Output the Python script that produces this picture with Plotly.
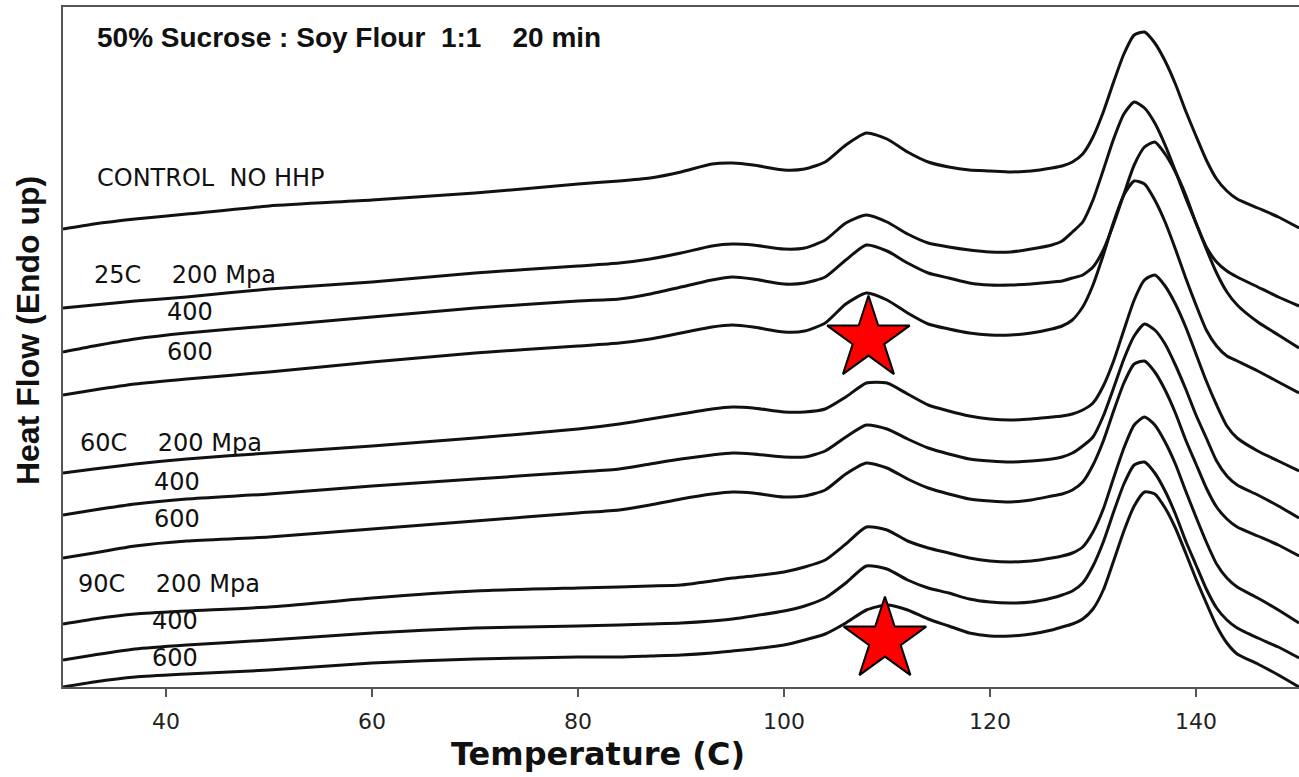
import plotly.graph_objects as go

# Temperature grid (deg C) shared by all DSC thermograms
temperature = [30, 33, 37, 42, 50, 60, 70, 80, 84, 87, 90, 93, 95, 97, 100, 102, 104, 106,
               108, 110, 112, 114, 116, 118, 120, 122, 124, 126, 127, 128, 129, 130, 131, 132,
               133, 134, 135, 136, 137, 138, 139, 140, 141, 142, 143, 144, 146, 148, 150]

# Heat flow (arbitrary units, endo up), curves already offset for stacking
control = [45.8, 46.3, 46.8, 47.3, 48.1, 48.7, 49.4, 50.3, 50.6, 50.9, 51.5, 52.3, 52.4, 52.2,
           51.7, 51.8, 52.5, 54.2, 55.4, 54.8, 53.5, 52.5,
           52.0, 51.7, 51.6, 51.5, 51.6, 51.9,
           52.1, 52.5, 53.3, 55.0, 57.5, 60.5, 63.3, 65.2, 65.5, 64.4, 62.6, 60.3, 57.6, 55.1,
           52.7, 50.8, 49.6, 48.8, 47.9, 47.0, 45.9]
hhp25_200 = [37.9, 38.2, 38.6, 39.0, 39.8, 40.5, 41.4, 42.1, 42.4, 42.8, 43.4, 44.1, 44.3, 44.2,
             43.8, 43.9, 44.7, 46.4, 47.2, 46.5, 45.3, 44.4,
             44.0, 43.7, 43.5, 43.5, 43.8, 44.2,
             44.6, 45.5, 46.5, 48.7, 51.7, 54.8, 57.3, 58.5, 57.9, 56.4, 54.2, 51.6, 48.9, 46.4,
             44.0, 42.5, 41.6, 41.0, 40.0, 39.0, 38.1]
hhp25_400 = [33.5, 34.1, 34.8, 35.4, 36.1, 37.0, 37.9, 38.6, 38.8, 39.3, 40.0, 40.7, 41.0, 40.8,
             40.3, 40.4, 41.0, 42.7, 44.2, 43.6, 42.4, 41.4,
             40.9, 40.4, 40.2, 40.2, 40.3, 40.5,
             40.6, 40.9, 41.2, 42.0, 43.7, 46.3, 49.3, 52.2, 54.0, 54.5, 53.3, 51.5, 49.2, 46.4,
             43.8, 41.4, 39.5, 38.2, 36.5, 35.2, 33.9]
hhp25_600 = [29.2, 29.7, 30.3, 30.8, 31.5, 32.5, 33.4, 34.1, 34.4, 34.8, 35.4, 36.0, 36.2, 36.0,
             35.5, 35.6, 36.4, 38.3, 39.4, 38.7, 37.4, 36.3,
             35.8, 35.4, 35.2, 35.2, 35.4, 35.8,
             36.1, 36.7, 38.0, 40.2, 43.2, 46.5, 49.2, 50.6, 50.3, 48.7, 46.5, 43.8, 40.9, 38.2,
             35.7, 34.1, 33.1, 32.6, 31.6, 30.5, 29.4]
hhp60_200 = [21.4, 21.8, 22.3, 22.8, 23.4, 24.1, 24.9, 25.8, 26.3, 26.8, 27.3, 27.8, 28.0, 27.9,
             27.5, 27.5, 27.8, 29.0, 30.4, 30.4, 29.3, 28.2,
             27.6, 27.1, 26.8, 26.7, 26.8, 27.0,
             27.1, 27.3, 27.7, 28.4, 30.1, 32.6, 35.7, 38.7, 40.7, 41.2, 40.1, 38.3, 36.0, 33.3,
             30.6, 28.2, 26.1, 24.9, 23.6, 22.6, 21.6]
hhp60_400 = [17.2, 17.7, 18.3, 18.8, 19.3, 20.1, 20.8, 21.5, 21.8, 22.3, 22.8, 23.2, 23.4, 23.3,
             23.0, 23.0, 23.6, 25.0, 26.2, 25.8, 24.8, 23.9,
             23.3, 22.8, 22.6, 22.5, 22.6, 22.8,
             23.0, 23.4, 24.1, 25.0, 27.1, 29.9, 32.8, 35.1, 36.3, 35.7, 34.3, 32.2, 29.8, 27.2,
             24.9, 22.6, 21.1, 20.2, 19.2, 18.1, 16.9]
hhp60_600 = [12.9, 13.4, 14.1, 14.6, 15.0, 15.8, 16.6, 17.4, 17.7, 18.2, 18.8, 19.3, 19.5, 19.4,
             19.0, 19.1, 19.7, 21.3, 22.4, 21.9, 20.8, 19.9,
             19.3, 18.8, 18.6, 18.5, 18.7, 19.1,
             19.3, 19.7, 20.5, 22.2, 24.6, 27.6, 30.4, 32.3, 32.6, 31.5, 29.7, 27.4, 24.7, 22.3,
             19.9, 18.0, 16.8, 16.0, 15.1, 14.2, 13.1]
hhp90_200 = [6.3, 6.8, 7.3, 7.6, 8.0, 8.9, 9.6, 9.9, 10.0, 10.1, 10.2, 10.6, 10.9, 11.1,
             11.5, 12.0, 12.7, 14.3, 16.0, 15.7, 14.6, 13.9,
             13.4, 12.9, 12.6, 12.5, 12.6, 12.9,
             13.1, 13.4, 14.0, 15.5, 17.8, 20.9, 23.9, 26.2, 27.0, 26.2, 24.5, 22.3, 19.6, 17.0,
             14.5, 12.3, 10.9, 10.0, 8.9, 7.7, 6.4]
hhp90_400 = [2.7, 3.2, 3.8, 4.2, 4.7, 5.4, 5.9, 6.1, 6.2, 6.3, 6.4, 6.6, 6.8, 7.1,
             7.6, 8.1, 8.9, 10.4, 12.1, 11.8, 10.7, 9.9,
             9.4, 8.8, 8.5, 8.4, 8.5, 8.9,
             9.2, 9.6, 10.4, 12.1, 14.5, 17.5, 20.3, 22.2, 22.5, 21.4, 19.6, 17.3, 14.6, 12.2,
             9.8, 7.9, 6.7, 5.9, 4.9, 4.0, 2.9]
hhp90_600 = [0.0, 0.5, 1.0, 1.3, 1.7, 2.4, 2.8, 3.0, 3.0, 3.1, 3.2, 3.4, 3.6, 3.8,
             4.2, 4.7, 5.3, 6.4, 7.7, 8.2, 7.7, 6.8,
             6.1, 5.4, 5.1, 5.1, 5.3, 5.7,
             6.0, 6.3, 6.8, 7.8, 9.7, 12.6, 15.6, 18.1, 19.5, 19.3, 17.9, 15.9, 13.4, 10.8,
             8.4, 6.1, 4.4, 3.3, 2.3, 1.2, 0.0]

curves = [control, hhp25_200, hhp25_400, hhp25_600, hhp60_200, hhp60_400, hhp60_600,
          hhp90_200, hhp90_400, hhp90_600]
for c in curves:
    if len(c) != len(temperature):
        raise ValueError("curve length mismatch")

# Highlighted transitions
star_temp = [108.2, 109.8]
star_flow = [34.8, 4.7]

# Curve labels: text, x (deg C), y (heat flow units)
label_text = ["CONTROL\u00a0\u00a0NO HHP",
              "25C\u00a0\u00a0\u00a0\u00a0200 Mpa", "400", "600",
              "60C\u00a0\u00a0\u00a0\u00a0200 Mpa", "400", "600",
              "90C\u00a0\u00a0\u00a0\u00a0200 Mpa", "400", "600"]
label_x = [33.1, 32.8, 39.9, 39.9, 31.5, 38.6, 38.6, 31.3, 38.4, 38.4]
label_y = [50.9, 41.2, 37.5, 33.5, 24.4, 20.5, 16.8, 10.3, 6.6, 2.9]

x_ticks = [40, 60, 80, 100, 120, 140]

fig = go.Figure()
for c in curves:
    fig.add_trace(go.Scatter(
        x=temperature, y=c, mode="lines",
        line=dict(color="#111111", width=3, shape="spline", smoothing=0.6),
        hoverinfo="skip", showlegend=False,
    ))

fig.add_trace(go.Scatter(
    x=star_temp, y=star_flow, mode="markers",
    marker=dict(symbol="star", size=62, color="#ff0000",
                line=dict(color="#000000", width=2)),
    hoverinfo="skip", showlegend=False,
))

annotations = []
for t, lx, ly in zip(label_text, label_x, label_y):
    annotations.append(dict(
        x=lx, y=ly, xref="x", yref="y", text=t, showarrow=False,
        xanchor="left", yanchor="middle",
        font=dict(family="DejaVu Sans", size=24, color="#111111"),
    ))

annotations.append(dict(
    x=33.1, y=65.0, xref="x", yref="y",
    text="<b>50% Sucrose : Soy Flour\u00a0\u00a01:1\u00a0\u00a0\u00a0\u00a020 min</b>",
    showarrow=False, xanchor="left", yanchor="middle",
    font=dict(family="Liberation Sans, Arial", size=28, color="#111111"),
))
annotations.append(dict(
    x=0.433, y=-0.098, xref="paper", yref="paper",
    text="<b>Temperature (C)</b>", showarrow=False,
    xanchor="center", yanchor="middle",
    font=dict(family="DejaVu Sans", size=32, color="#111111"),
))
annotations.append(dict(
    x=-0.0283, y=0.5235, xref="paper", yref="paper",
    text="<b>Heat Flow (Endo up)</b>", showarrow=False, textangle=-90,
    xanchor="center", yanchor="middle",
    font=dict(family="Liberation Sans, Arial", size=32, color="#111111"),
))

fig.update_layout(
    width=1299, height=777,
    margin=dict(l=63, r=0, t=7, b=90),
    paper_bgcolor="white", plot_bgcolor="white",
    annotations=annotations,
    hovermode=False,
    xaxis=dict(range=[30, 150], tickvals=x_ticks, ticktext=[str(v) for v in x_ticks],
               showgrid=False, zeroline=False, showline=True, linecolor="#555555",
               linewidth=2, mirror=True, ticks="outside", ticklen=8, tickwidth=2,
               tickcolor="#555555", ticklabelstandoff=6,
               tickfont=dict(family="DejaVu Sans", size=22, color="#222222")),
    yaxis=dict(range=[0, 68], showgrid=False, zeroline=False, showline=True,
               linecolor="#555555", linewidth=2, showticklabels=False, ticks=""),
)

fig.write_html("out.html")
